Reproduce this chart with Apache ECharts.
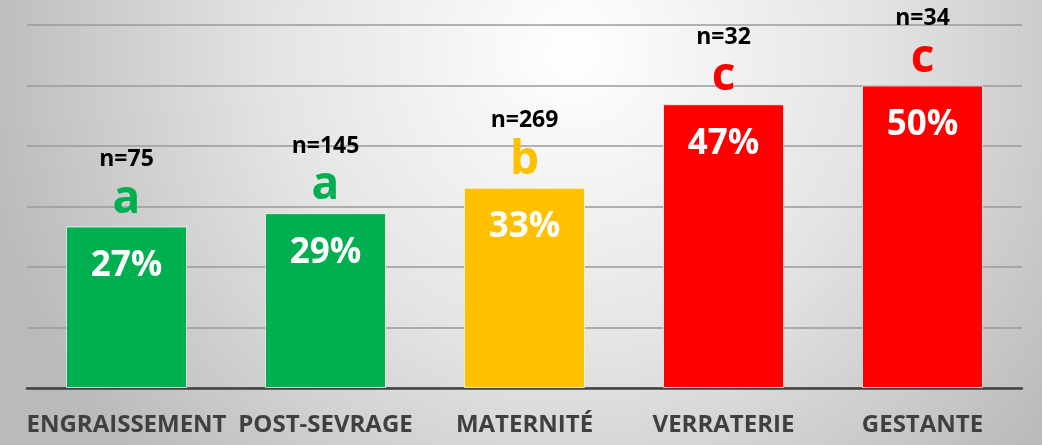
<html>
<head>
<meta charset="UTF-8">
<title>chart</title>
<script type="text/javascript" src="https://cdn.jsdelivr.net/npm/echarts@6/dist/echarts.min.js"></script>
<style>
  html, body { margin: 0; padding: 0; }
  #main { width: 1042px; height: 445px; }
</style>
</head>
<body>
<div id="main"></div>
<script type="text/javascript">
  // données
  var categories = ['ENGRAISSEMENT', 'POST-SEVRAGE', 'MATERNITÉ', 'VERRATERIE', 'GESTANTE'];
  var values = [26.7, 28.9, 33.1, 46.9, 50];
  var pctLabels = ['27%', '29%', '33%', '47%', '50%'];
  var letters = ['a', 'a', 'b', 'c', 'c'];
  var counts = [75, 145, 269, 32, 34];
  var barColors = ['#00B050', '#00B050', '#FFC000', '#FF0000', '#FF0000'];

  var myChart = echarts.init(document.getElementById('main'));

  var font = '"Open Sans", "DejaVu Sans", sans-serif';

  // un style rich par barre pour la couleur de la lettre
  var rich = {
    n: { fontFamily: font, fontWeight: 'bold', fontSize: 23, color: '#000', lineHeight: 30 }
  };
  for (var i = 0; i < letters.length; i++) {
    rich['l' + i] = { fontFamily: font, fontWeight: 'bold', fontSize: 46, color: barColors[i], lineHeight: 50 };
  }

  var barData = [];
  for (var j = 0; j < values.length; j++) {
    barData.push({ value: values[j], itemStyle: { color: barColors[j] } });
  }

  var option = {
    backgroundColor: {
      type: 'radial', x: 0.55, y: 0.12, r: 1.35,
      colorStops: [
        { offset: 0, color: '#ffffff' },
        { offset: 0.5, color: '#e4e4e4' },
        { offset: 1, color: '#bababa' }
      ]
    },
    animation: false,
    grid: { left: 27, right: 20, top: 25, bottom: 57, containLabel: false },
    xAxis: {
      type: 'category',
      data: categories,
      axisTick: { show: false },
      axisLine: { lineStyle: { color: '#404040', width: 2.5 } },
      axisLabel: {
        interval: 0,
        margin: 25,
        fontFamily: font,
        fontWeight: 'bold',
        fontSize: 24,
        color: '#404040'
      }
    },
    yAxis: {
      type: 'value',
      min: 0,
      max: 60,
      interval: 10,
      axisLabel: { show: false },
      axisLine: { show: false },
      axisTick: { show: false },
      splitLine: { lineStyle: { color: '#9a9a9a', width: 1.5 } }
    },
    series: [
      {
        type: 'bar',
        barWidth: 121,
        data: barData,
        itemStyle: { borderColor: 'rgba(255,255,255,0.7)', borderWidth: 1 },
        label: {
          show: true,
          position: 'insideTop',
          distance: 22,
          fontFamily: font,
          fontWeight: 'bold',
          fontSize: 35,
          lineHeight: 35,
          color: '#ffffff',
          formatter: function (p) { return pctLabels[p.dataIndex]; }
        }
      },
      {
        type: 'bar',
        barWidth: 121,
        barGap: '-100%',
        data: values,
        itemStyle: { color: 'rgba(0,0,0,0)' },
        silent: true,
        label: {
          show: true,
          position: 'top',
          distance: 2,
          align: 'center',
          formatter: function (p) {
            return '{n|n=' + counts[p.dataIndex] + '}\n{l' + p.dataIndex + '|' + letters[p.dataIndex] + '}';
          },
          rich: rich
        }
      }
    ]
  };

  myChart.setOption(option);
</script>
</body>
</html>
